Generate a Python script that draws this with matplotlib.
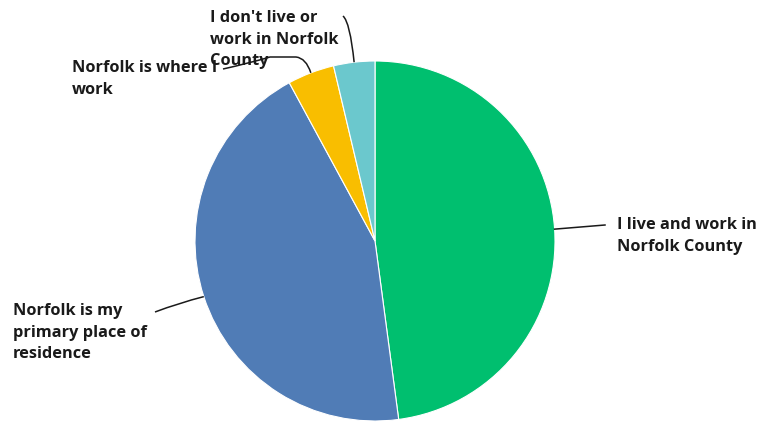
import numpy as np
import matplotlib
matplotlib.use("Agg")
import matplotlib.pyplot as plt
from matplotlib.path import Path
from matplotlib.patches import PathPatch

# Survey responses (percent of respondents)
categories = [
    "I live and work in\nNorfolk County",
    "Norfolk is my\nprimary place of\nresidence",
    "Norfolk is where I\nwork",
    "I don't live or\nwork in Norfolk\nCounty",
]
shares = [47.9, 44.2, 4.2, 3.7]
colors = ["#00BF6F", "#507CB6", "#F9BE00", "#6BC8CD"]

W, H = 763, 423
fig = plt.figure(figsize=(W / 100, H / 100), dpi=100)
ax = fig.add_axes([0, 0, 1, 1])

cx, cy, r = 375, H - 241, 180
wedges, _ = ax.pie(shares, colors=colors, startangle=90, counterclock=False,
                   center=(cx, cy), radius=r, frame=True,
                   wedgeprops=dict(edgecolor="white", linewidth=0.8))
ax.set_xlim(0, W)
ax.set_ylim(0, H)
ax.set_aspect("equal")
ax.axis("off")


def edge_point(w):
    ang = np.deg2rad((w.theta1 + w.theta2) / 2)
    return cx + r * np.cos(ang), cy + r * np.sin(ang)


def px(x, y):
    return x, H - y


font = dict(family=["Open Sans", "DejaVu Sans"], fontweight="bold",
            fontsize=11.8, color="#1a1a1a")

# label anchors: left edge and first-line baseline, pixels from top
label_pos = [(617, 229), (13, 315), (72, 72), (210, 22)]
line_step = 21.7
for text, (lx, ly) in zip(categories, label_pos):
    for i, line in enumerate(text.split("\n")):
        ax.text(*px(lx, ly + i * line_step), line, ha="left", va="baseline",
                **font)

# leader lines from each wedge's outer midpoint to its label
lw = 1.1
p0 = edge_point(wedges[0])
ax.plot([p0[0], 605], [p0[1], H - 225], color="#1a1a1a", lw=lw)

p1 = edge_point(wedges[1])
verts = [p1, (p1[0] - 25, H - 303), px(155, 312)]
ax.add_patch(PathPatch(Path(verts, [Path.MOVETO, Path.CURVE3, Path.CURVE3]),
                       fill=False, color="#1a1a1a", lw=lw))

p2 = edge_point(wedges[2])
verts = [p2, px(306, 58), px(296, 57), px(270, 57), px(250, 63), px(223, 69)]
ax.add_patch(PathPatch(Path(verts, [Path.MOVETO, Path.CURVE3, Path.CURVE3,
                                    Path.LINETO, Path.CURVE3, Path.CURVE3]),
                       fill=False, color="#1a1a1a", lw=lw))

p3 = edge_point(wedges[3])
verts = [p3, px(350, 22), px(343, 16)]
ax.add_patch(PathPatch(Path(verts, [Path.MOVETO, Path.CURVE3, Path.CURVE3]),
                       fill=False, color="#1a1a1a", lw=lw))

fig.savefig("out.png", dpi=100, facecolor="white")
